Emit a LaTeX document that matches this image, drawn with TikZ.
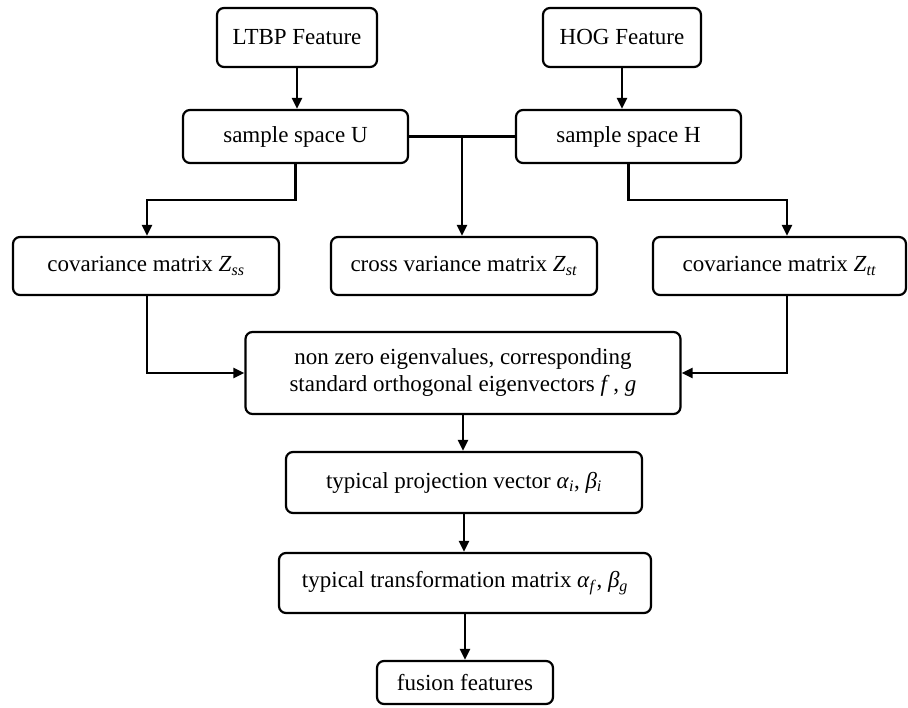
\documentclass[tikz,border=0pt]{standalone}
\usepackage{fontspec}
\setmainfont{Liberation Serif}
\usetikzlibrary{arrows.meta}
% italic symbol with an italic subscript, set in the text font
\newcommand{\symsub}[2]{\textit{#1}\textsubscript{\textit{#2}}}
\begin{document}
\begin{tikzpicture}[x=1pt,y=-1pt,
  box/.style={draw, line width=2.2pt, rounded corners=7pt, align=center,
    inner sep=0pt, font=\fontsize{23}{27}\selectfont},
  link/.style={line width=2.2pt, -{Triangle[length=11pt,width=10pt]}},
  plain/.style={line width=2.2pt}]
\useasboundingbox (0,0) rectangle (908,708);

% feature sources
\node[box, minimum width=160pt, minimum height=59pt] (ltbp) at (297,37.5) {LTBP Feature};
\node[box, minimum width=158pt, minimum height=59pt] (hog)  at (622,37.5) {HOG Feature};

% sample spaces
\node[box, minimum width=225pt, minimum height=53pt] (su) at (295.5,136.5) {sample space U};
\node[box, minimum width=225pt, minimum height=53pt] (sh) at (628.5,136.5) {sample space H};

% covariance matrices
\node[box, minimum width=266pt, minimum height=58pt] (zss) at (146,266) {covariance matrix \symsub{Z}{ss}};
\node[box, minimum width=266pt, minimum height=58pt] (zst) at (464,266) {cross variance matrix \symsub{Z}{st}};
\node[box, minimum width=253pt, minimum height=58pt] (ztt) at (779.5,266) {covariance matrix \symsub{Z}{tt}};

% eigen decomposition
\node[box, minimum width=435pt, minimum height=82pt] (eig) at (463,373)
  {non zero eigenvalues, corresponding\\standard orthogonal eigenvectors \textit{f}\,, \textit{g}};

% projection and transformation
\node[box, minimum width=356pt, minimum height=61pt] (proj) at (464,482.5) {typical projection vector \symsub{α}{i}, \symsub{β}{i}};
\node[box, minimum width=372pt, minimum height=60pt] (trf) at (465,583) {typical transformation matrix \symsub{α}{f}, \symsub{β}{g}};
\node[box, minimum width=176pt, minimum height=43pt] (fus) at (465,682.5) {fusion features};

% routing points
\coordinate (mid) at (462,136.5);
\coordinate (ul) at (147,200);
\coordinate (hr) at (787,200);
\coordinate (ll) at (147,373);
\coordinate (rr) at (787,373);

% connectors
\draw[link] (ltbp.south) -- (ltbp.south |- su.north);
\draw[link] (hog.south) -- (hog.south |- sh.north);
\draw[plain] (su.east) -- (sh.west);
\draw[link] (mid) -- (mid |- zst.north);
\draw[link] (su.south) |- (ul) -- (ul |- zss.north);
\draw[link] (sh.south) |- (hr) -- (hr |- ztt.north);
\draw[link] (ll |- zss.south) -- (ll) -- (eig.west);
\draw[link] (rr |- ztt.south) -- (rr) -- (eig.east);
\draw[link] (eig.south) -- (eig.south |- proj.north);
\draw[link] (proj.south) -- (proj.south |- trf.north);
\draw[link] (trf.south) -- (trf.south |- fus.north);
\end{tikzpicture}
\end{document}
